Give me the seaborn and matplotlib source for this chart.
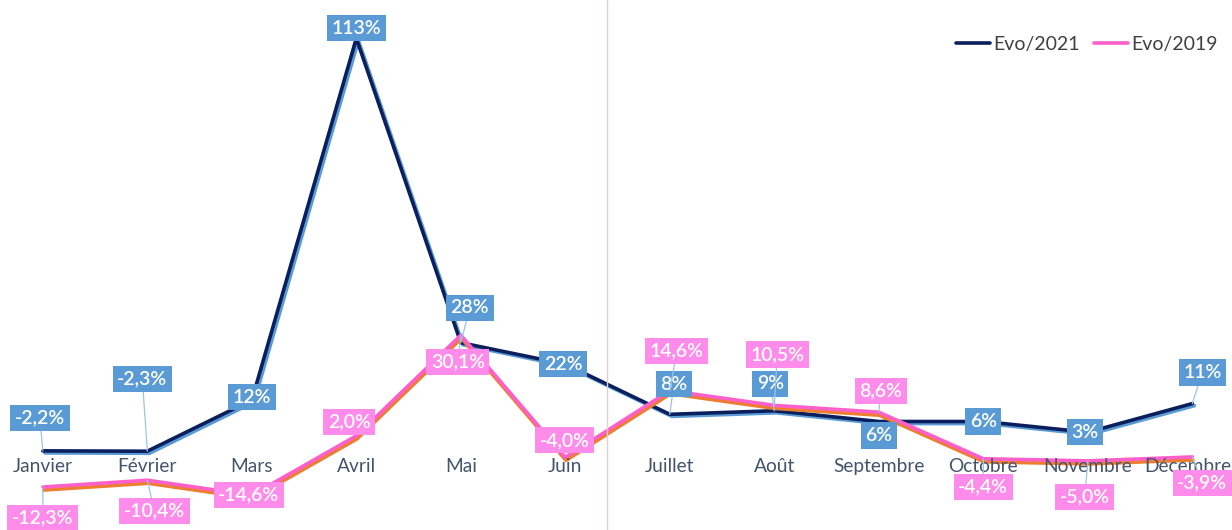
import matplotlib
matplotlib.use("Agg")
import matplotlib.pyplot as plt
import matplotlib.patheffects as pe
import matplotlib.transforms as mtrans
from matplotlib.lines import Line2D
import seaborn as sns
import pandas as pd

mois = ["Janvier", "Février", "Mars", "Avril", "Mai", "Juin", "Juillet",
        "Août", "Septembre", "Octobre", "Novembre", "Décembre"]
evo_2021 = [-2.2, -2.3, 12, 113, 28, 22, 8, 9, 6, 6, 3, 11]
evo_2019 = [-12.3, -10.4, -14.6, 2.0, 30.1, -4.0, 14.6, 10.5, 8.6, -4.4, -5.0, -3.9]
labels_2021 = ["-2,2%", "-2,3%", "12%", "113%", "28%", "22%", "8%", "9%", "6%", "6%", "3%", "11%"]
labels_2019 = ["-12,3%", "-10,4%", "-14,6%", "2,0%", "30,1%", "-4,0%", "14,6%", "10,5%",
               "8,6%", "-4,4%", "-5,0%", "-3,9%"]

# label offsets (pixels) relative to each point -- styling only
off_2021 = [(-3, 33), (-5, 72), (0, 3), (0, 10), (9, 35), (-2, 0), (4, 30), (-4, 27),
            (0, -14), (0, 0), (-3, 0), (10, 31)]
off_2019 = [(0, -31), (7, -31), (-3, 0), (-7, 14), (-3, -27), (-1, 17), (7, 40), (3, 51),
            (2, 21), (0, -28), (-3, -36), (10, -26)]

NAVY = "#0B1F5C"
LBLUE = "#5B9BD5"
PINK = "#FF5FCB"
ORANGE = "#ED7D31"
PBOX = "#FF8BEA"

sns.set_theme(style="white")
plt.rcParams["font.family"] = ["Lato", "DejaVu Sans"]

df = pd.DataFrame({"x": range(len(mois)), "mois": mois,
                   "Evo/2021": evo_2021, "Evo/2019": evo_2019})

fig = plt.figure(figsize=(12.32, 5.30), dpi=100)
ax = fig.add_axes([0, 0, 1, 1])

sns.lineplot(data=df, x="x", y="Evo/2021", ax=ax, color=NAVY, linewidth=2.6,
             legend=False, zorder=3,
             path_effects=[pe.SimpleLineShadow(offset=(1.5, -1.5), shadow_color=LBLUE, alpha=1),
                           pe.Normal()])
sns.lineplot(data=df, x="x", y="Evo/2019", ax=ax, color=PINK, linewidth=2.6,
             legend=False, zorder=4,
             path_effects=[pe.SimpleLineShadow(offset=(0.5, -2.2), shadow_color=ORANGE, alpha=1),
                           pe.Normal()])

ax.set_xlim(-0.41, 11.38)
ax.set_ylim(-24.3, 123.7)
for s in ["top", "right", "left"]:
    ax.spines[s].set_visible(False)
ax.spines["bottom"].set_position(("data", 0))
ax.spines["bottom"].set_visible(False)
ax.set_xticks(range(len(mois)))
ax.set_xticklabels(mois)
ax.set_yticks([])
ax.set_xlabel("")
ax.set_ylabel("")
ax.tick_params(axis="x", length=0, pad=11, labelsize=13.8, labelcolor="#44546A")
ax.xaxis.set_zorder(5)
fig.canvas.draw()
labs = ax.get_xticklabels()
# nudge the last label so it stays inside the figure
labs[-1].set_transform(labs[-1].get_transform() +
                       mtrans.ScaledTranslation(-4 / 100, 0, fig.dpi_scale_trans))


def add_labels(vals, texts, offs, box, z):
    for i, (v, t, o) in enumerate(zip(vals, texts, offs)):
        far = (o[0] ** 2 + o[1] ** 2) ** 0.5 > 18
        ax.annotate(t, xy=(i, v), xytext=o, textcoords="offset pixels",
                    ha="center", va="center", fontsize=14, color="white",
                    fontweight="semibold", zorder=z,
                    bbox=dict(boxstyle="square,pad=0.24", fc=box, ec="none"),
                    arrowprops=dict(arrowstyle="-", color="#9DC3E6", lw=0.9,
                                    shrinkA=0, shrinkB=0) if far else None)


add_labels(evo_2021, labels_2021, off_2021, LBLUE, 6)
add_labels(evo_2019, labels_2019, off_2019, PBOX, 7)

# thin vertical separator
fig.add_artist(Line2D([607 / 1232, 607 / 1232], [0, 1], transform=fig.transFigure,
                      color="#E6CFCF", lw=1, zorder=1))

handles = [Line2D([], [], color=NAVY, lw=2.6), Line2D([], [], color=PINK, lw=2.6)]
leg = ax.legend(handles, ["Evo/2021", "Evo/2019"], loc="upper right",
                bbox_to_anchor=(1.003, 0.965), ncol=2, frameon=False, fontsize=14,
                handlelength=1.75, handletextpad=0.2, columnspacing=0.7)
for t in leg.get_texts():
    t.set_color("#404040")

fig.savefig("out.png", dpi=100)
